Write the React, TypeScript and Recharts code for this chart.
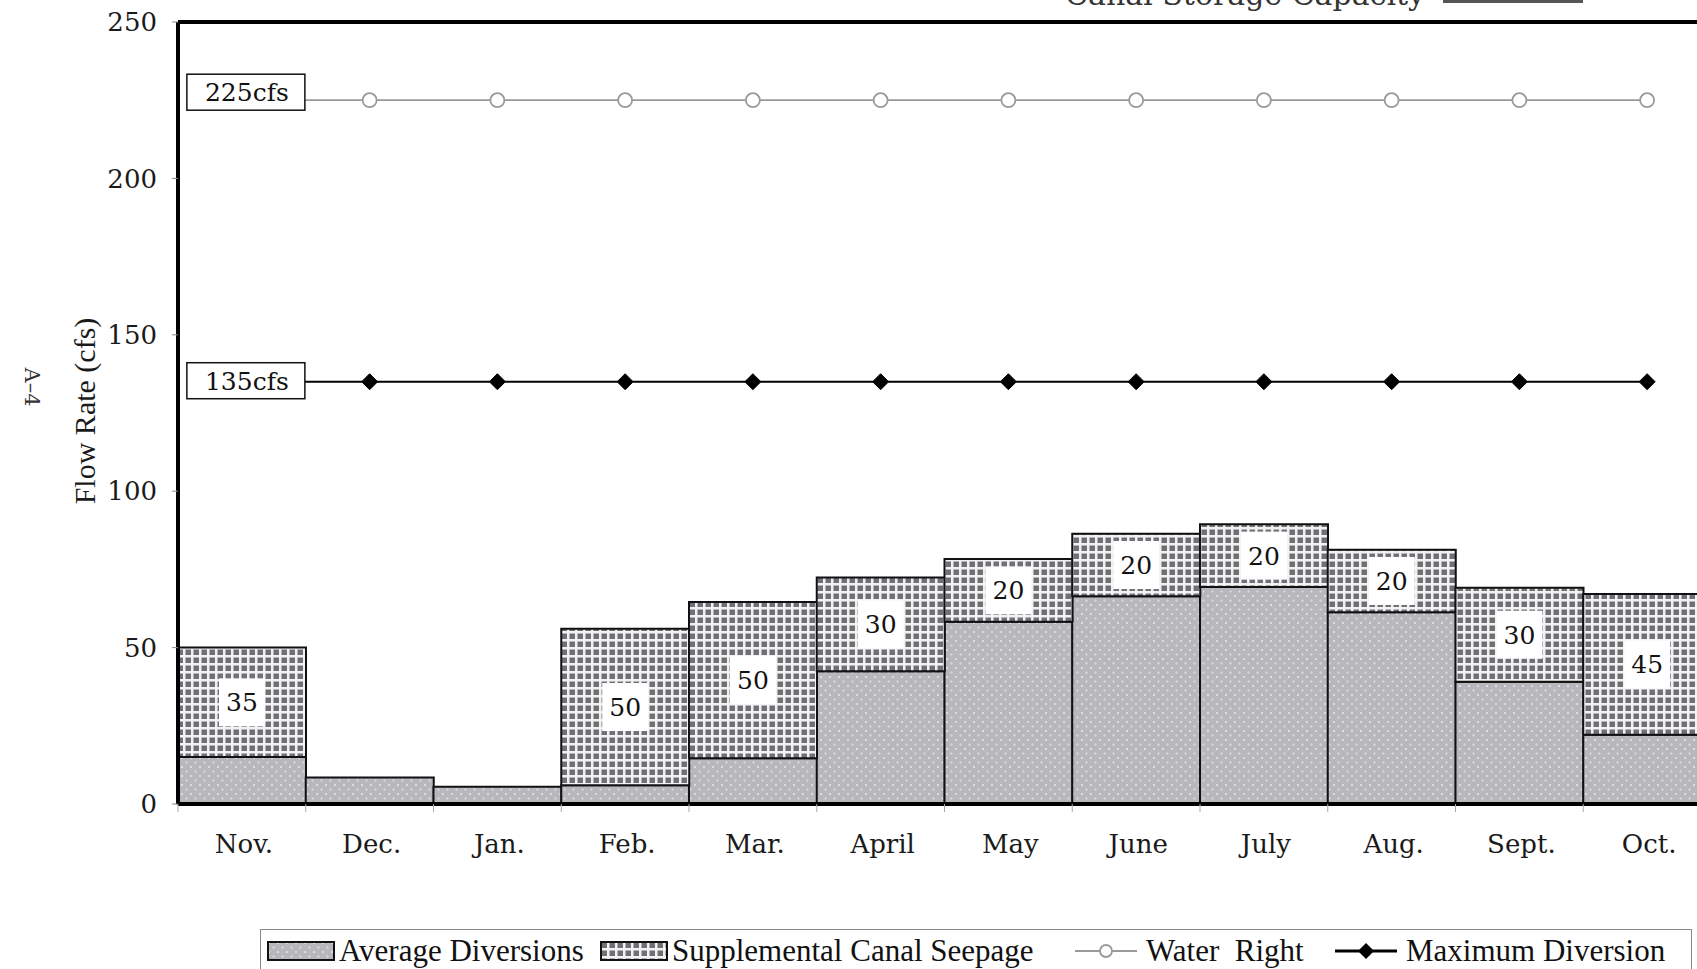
import React from "react"
import { ComposedChart, Bar, Line, XAxis, YAxis, ReferenceLine, Legend, LabelList } from "recharts"

const months = ["Nov.", "Dec.", "Jan.", "Feb.", "Mar.", "April", "May", "June", "July", "Aug.", "Sept.", "Oct."]
const averageDiversions = [15, 8.5, 5.5, 6, 14.6, 42.4, 58.3, 66.4, 69.4, 61.3, 39.1, 22.1]
const canalSeepage = [35, 0, 0, 50, 50, 30, 20, 20, 20, 20, 30, 45]
const waterRight = [225, 225, 225, 225, 225, 225, 225, 225, 225, 225, 225, 225]
const maxDiversion = [135, 135, 135, 135, 135, 135, 135, 135, 135, 135, 135, 135]
const yTicks = [0, 50, 100, 150, 200, 250]

const data = months.map((month, i) => ({
  month,
  average: averageDiversions[i],
  seepage: canalSeepage[i],
  waterRight: waterRight[i],
  maxDiversion: maxDiversion[i],
}))

const CHART_W = 1720
const CHART_H = 969
const Y_AXIS_W = 178
const MARGIN = { top: 22, right: 9, bottom: 0, left: 0 }
const BAND = (CHART_W - Y_AXIS_W - MARGIN.right - MARGIN.left) / months.length

const SERIF = "'DejaVu Serif', serif"
const TIMES = "'Liberation Serif', 'Times New Roman', serif"

function MonthTick({ x, y, payload }: any) {
  return (
    <g>
      <line x1={x - BAND / 2} x2={x - BAND / 2} y1={y - 8} y2={y} stroke="#aaa" strokeWidth={1} />
      <text x={x + 2} y={y + 41} textAnchor="middle" fontFamily={SERIF} fontSize={26} fill="#1a1a1a">
        {payload.value}
      </text>
    </g>
  )
}

function SeepageLabel({ x, y, width, height, value }: any) {
  if (!value) return null
  const cx = x + width / 2
  const cy = y + height / 2
  return (
    <g>
      <rect x={cx - 23} y={cy - 24} width={46} height={48} fill="#fff" />
      <text x={cx} y={cy + 9} textAnchor="middle" fontFamily={SERIF} fontSize={25} fill="#111">
        {value}
      </text>
    </g>
  )
}

function ValueBox({ cx, cy, value, shift }: { cx: number; cy: number; value: number; shift: number }) {
  const top = cy - 18 + shift
  return (
    <g>
      <rect x={cx - 55} y={top} width={118} height={36} fill="#fff" stroke="#111" strokeWidth={1.5} />
      <text x={cx + 5} y={top + 27} textAnchor="middle" fontFamily={SERIF} fontSize={25} fill="#111">
        {`${value}cfs`}
      </text>
    </g>
  )
}

function CircleDot(props: any) {
  const { cx, cy, index, value } = props
  if (index === 0) return <ValueBox key={`w${index}`} cx={cx} cy={cy} value={value} shift={-8} />
  return <circle key={`w${index}`} cx={cx} cy={cy} r={7} fill="#fff" stroke="#9a9a9a" strokeWidth={1.8} />
}

function DiamondDot(props: any) {
  const { cx, cy, index, value } = props
  if (index === 0) return <ValueBox key={`m${index}`} cx={cx} cy={cy} value={value} shift={-1} />
  const s = 8
  return (
    <path
      key={`m${index}`}
      d={`M${cx},${cy - s} L${cx + s},${cy} L${cx},${cy + s} L${cx - s},${cy} Z`}
      fill="#000"
      stroke="#000"
    />
  )
}

function ChartLegend() {
  const text: React.CSSProperties = { fontFamily: TIMES, fontSize: 31, color: "#111", whiteSpace: "pre", lineHeight: "32px" }
  const item: React.CSSProperties = { display: "flex", alignItems: "center", flex: "none" }
  return (
    <div
      style={{
        display: "flex",
        alignItems: "center",
        border: "1.5px solid #888",
        background: "#fff",
        width: 1432,
        height: 44,
        paddingLeft: 6,
        boxSizing: "border-box",
      }}
    >
      <div style={{ ...item, width: 333 }}>
        <svg width={68} height={20} style={{ marginRight: 4 }}>
          <rect x={1} y={1} width={66} height={18} fill="url(#dots)" stroke="#111" strokeWidth={2} />
        </svg>
        <span style={text}>Average Diversions</span>
      </div>
      <div style={{ ...item, width: 475 }}>
        <svg width={68} height={20} style={{ marginRight: 4 }}>
          <rect x={1} y={1} width={66} height={18} fill="url(#grid)" stroke="#111" strokeWidth={2} />
        </svg>
        <span style={text}>Supplemental Canal Seepage</span>
      </div>
      <div style={{ ...item, width: 260 }}>
        <svg width={62} height={20} style={{ marginRight: 9 }}>
          <line x1={0} x2={62} y1={10} y2={10} stroke="#9a9a9a" strokeWidth={1.8} />
          <circle cx={31} cy={10} r={6} fill="#fff" stroke="#9a9a9a" strokeWidth={1.8} />
        </svg>
        <span style={text}>Water  Right</span>
      </div>
      <div style={{ ...item }}>
        <svg width={62} height={20} style={{ marginRight: 9 }}>
          <line x1={0} x2={62} y1={10} y2={10} stroke="#000" strokeWidth={3} />
          <path d="M31,2 L39,10 L31,18 L23,10 Z" fill="#000" />
        </svg>
        <span style={text}>Maximum Diversion</span>
      </div>
    </div>
  )
}

export default function App() {
  return (
    <div
      style={{
        position: "fixed",
        left: 0,
        top: 0,
        width: 1697,
        height: 969,
        overflow: "hidden",
        background: "#fff",
      }}
    >
      <ComposedChart
        width={CHART_W}
        height={CHART_H}
        data={data}
        margin={MARGIN}
        barCategoryGap={0}
        barGap={0}
        style={{ fontFamily: SERIF }}
      >
        <defs>
          <pattern id="dots" patternUnits="userSpaceOnUse" width={9} height={9}>
            <rect width={9} height={9} fill="#b8b8bc" />
            <circle cx={2} cy={2} r={1} fill="#f4f4ff" opacity={0.8} />
            <circle cx={6.5} cy={6.5} r={1} fill="#f4f4ff" opacity={0.65} />
          </pattern>
          <pattern id="grid" patternUnits="userSpaceOnUse" width={8} height={8}>
            <rect width={8} height={8} fill="#f2f2f2" />
            <rect x={1.5} y={1.5} width={5.5} height={5.5} fill="#707076" />
          </pattern>
        </defs>
        <text x={1425} y={5} textAnchor="end" fontFamily={SERIF} fontSize={30} fill="#333">
          Canal Storage Capacity
        </text>
        <rect x={1443} y={0} width={140} height={3} fill="#555" />
        <text
          x={32}
          y={387}
          transform="rotate(90, 32, 387)"
          textAnchor="middle"
          dominantBaseline="central"
          fontFamily={SERIF}
          fontSize={21}
          fill="#333"
        >
          A–4
        </text>
        <text
          x={84}
          y={411}
          transform="rotate(-90, 84, 411)"
          textAnchor="middle"
          dominantBaseline="central"
          fontFamily={TIMES}
          fontSize={30}
          fill="#1a1a1a"
        >
          Flow Rate (cfs)
        </text>
        <XAxis
          dataKey="month"
          height={CHART_H - 804 - MARGIN.bottom}
          axisLine={{ stroke: "#000", strokeWidth: 4 }}
          tickLine={false}
          tickSize={8}
          tickMargin={0}
          interval={0}
          tick={<MonthTick />}
        />
        <YAxis
          width={Y_AXIS_W}
          domain={[0, 250]}
          ticks={yTicks}
          interval={0}
          axisLine={{ stroke: "#000", strokeWidth: 4 }}
          tickLine={{ stroke: "#888" }}
          tickSize={6}
          tickMargin={15}
          tick={{ fill: "#1a1a1a", fontSize: 26, fontFamily: SERIF }}
        />
        <ReferenceLine y={250} stroke="#000" strokeWidth={4} />
        <Bar dataKey="average" stackId="a" fill="url(#dots)" stroke="#111" strokeWidth={2} isAnimationActive={false} />
        <Bar dataKey="seepage" stackId="a" fill="url(#grid)" stroke="#111" strokeWidth={2} isAnimationActive={false}>
          <LabelList dataKey="seepage" content={<SeepageLabel />} />
        </Bar>
        <Line
          dataKey="waterRight"
          stroke="#9a9a9a"
          strokeWidth={1.8}
          dot={CircleDot}
          activeDot={false}
          isAnimationActive={false}
        />
        <Line
          dataKey="maxDiversion"
          stroke="#000"
          strokeWidth={2}
          dot={DiamondDot}
          activeDot={false}
          isAnimationActive={false}
        />
        <Legend
          layout="horizontal"
          verticalAlign="middle"
          align="center"
          wrapperStyle={{ top: 929, left: 260, width: "auto", height: "auto" }}
          content={<ChartLegend />}
        />
      </ComposedChart>
    </div>
  )
}
